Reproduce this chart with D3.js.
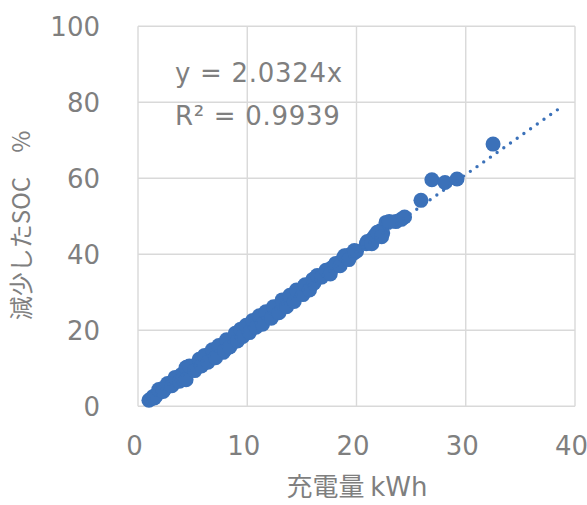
<!DOCTYPE html>
<html lang="ja">
<head>
<meta charset="UTF-8">
<title>充電量と減少したSOC</title>
<script src="https://d3js.org/d3.v7.min.js"></script>
<style>
  html, body { margin: 0; padding: 0; background: #fff; }
  svg text { font-family: "DejaVu Sans", Verdana, sans-serif; fill: #7f7f7f; }
  svg text.jp { font-family: "Noto Sans CJK JP", "DejaVu Sans", sans-serif; white-space: pre; }
</style>
</head>
<body>
<div id="chart"></div>
<script>
// 充電量 kWh
const chargeKwh = [
  1.0, 1.2, 1.4, 1.7, 2.0, 2.2, 2.4, 2.6, 2.8, 3.0, 3.2, 3.3, 3.5, 3.7, 3.9, 4.0,
  4.2, 4.3, 4.5, 4.6, 4.8, 5.0, 5.1, 5.3, 5.5, 5.7, 5.9, 6.0, 6.2, 6.3, 6.5, 6.7,
  6.9, 7.0, 7.2, 7.3, 7.5, 7.7, 7.8, 8.0, 8.2, 8.3, 8.5, 8.7, 8.8, 9.0, 9.2, 9.3,
  9.5, 9.7, 9.8, 10.0, 10.1, 10.3, 10.4, 10.6, 10.7, 10.9, 11.0, 11.2, 11.3, 11.5,
  11.6, 11.8, 12.0, 12.1, 12.3, 12.5, 12.6, 12.8, 13.0, 13.1, 13.3, 13.5, 13.7,
  13.8, 14.0, 14.2, 14.4, 14.6, 14.8, 15.0, 15.2, 15.4, 15.6, 15.8, 16.0, 16.3,
  16.6, 17.0, 17.4, 17.7, 18.0, 18.3, 18.6, 18.8, 19.1, 19.4, 19.7, 20.0, 20.9,
  21.2, 21.5, 21.7, 22.0, 22.2, 22.4, 22.7, 23.6, 24.1, 24.4, 25.9, 26.9, 28.1,
  29.2, 32.5,
  1.5, 1.9, 2.3, 2.7, 3.1, 3.4, 3.8, 4.1, 4.4, 4.4, 4.7, 5.2, 5.6, 5.8, 6.1, 6.4,
  6.8, 7.1, 7.4, 7.9, 8.1, 8.4, 8.9, 9.1, 9.4, 9.6, 9.9, 10.2, 10.5, 10.8, 11.1,
  11.4, 11.7, 12.2, 12.4, 12.9, 13.2, 13.6, 13.9, 14.3, 14.5, 15.1, 15.3, 15.7,
  16.1, 16.4, 16.8, 17.2, 17.6, 18.1, 18.5, 18.9, 19.3, 19.8, 21.0, 21.4, 21.9,
  22.3, 23.0
];
// 減少したSOC %
const socDrop = [
  1.6, 2.0, 2.6, 3.0, 3.8, 4.6, 4.4, 5.0, 5.8, 5.9, 6.4, 6.8, 7.0, 7.6, 7.7, 8.4,
  8.2, 9.0, 10.3, 9.0, 9.8, 10.1, 10.6, 10.7, 11.4, 11.2, 12.0, 12.6, 12.3, 13.0, 13.4, 13.1,
  14.2, 14.0, 14.6, 15.0, 14.8, 15.6, 14.2, 16.4, 16.1, 17.0, 17.2, 16.8, 18.0, 18.2, 18.6, 19.3,
  19.0, 19.8, 20.4, 20.2, 21.0, 20.8, 21.6, 21.5, 22.3, 22.0, 22.8, 23.0, 22.2, 23.6,
  23.3, 24.2, 24.0, 24.8, 25.2, 25.0, 26.0, 26.3, 26.1, 27.0, 27.2, 27.6, 27.3,
  28.2, 28.4, 28.8, 29.6, 30.0, 29.6, 30.6, 31.5, 31.0, 32.0, 32.2, 33.4, 33.8,
  34.0, 34.8, 35.6, 36.4, 36.8, 37.4, 38.0, 39.0, 39.6, 39.8, 40.2, 40.8, 42.8,
  43.4, 44.2, 45.0, 45.4, 46.2, 45.6, 48.4, 48.6, 49.2, 49.8, 54.2, 59.6, 58.9,
  59.8, 69.0,
  2.2, 4.4, 3.9, 6.0, 5.4, 7.6, 6.6, 7.2, 10.2, 7.0, 10.6, 9.4, 12.4, 10.6, 13.4, 11.6,
  14.9, 12.8, 16.0, 14.6, 17.5, 15.6, 19.2, 17.2, 20.3, 18.4, 21.3, 19.4, 22.6, 20.8, 23.8,
  21.6, 24.9, 23.2, 26.2, 24.6, 28.0, 26.2, 29.2, 27.6, 30.6, 29.4, 32.0, 30.6,
  32.4, 34.4, 34.0, 35.8, 34.8, 37.6, 37.0, 39.6, 38.6, 41.0, 43.4, 42.8, 45.8,
  44.6, 48.6
];
const xTicks = [0, 10, 20, 30, 40];
const yTicks = [0, 20, 40, 60, 80, 100];
const slope = 2.0324;
const trendX = [1.0, 38.9];
const equationLines = ["y = 2.0324x", "R² = 0.9939"];

const width = 587, height = 505;
const plot = { left: 138, right: 575, top: 26.3, bottom: 406.3 };
const markerColor = "#3b71b9";
const gridColor = "#d9d9d9";

const points = chargeKwh.map((x, i) => ({ x: x, y: socDrop[i] }));

const svg = d3.select("#chart").append("svg")
  .attr("width", width).attr("height", height);

const x = d3.scaleLinear().domain([0, 40]).range([plot.left, plot.right]);
const y = d3.scaleLinear().domain([0, 100]).range([plot.bottom, plot.top]);

// grid
svg.append("g").selectAll("line").data(xTicks).join("line")
  .attr("x1", d => x(d)).attr("x2", d => x(d))
  .attr("y1", plot.top).attr("y2", plot.bottom)
  .attr("stroke", gridColor).attr("stroke-width", 1.4);
svg.append("g").selectAll("line").data(yTicks).join("line")
  .attr("x1", plot.left).attr("x2", plot.right)
  .attr("y1", d => y(d)).attr("y2", d => y(d))
  .attr("stroke", gridColor).attr("stroke-width", 1.4);

// axis labels via d3 axes (domain/ticks hidden)
const xAxis = svg.append("g")
  .attr("transform", "translate(0," + plot.bottom + ")")
  .call(d3.axisBottom(x).tickValues(xTicks).tickSize(0).tickPadding(0));
xAxis.select(".domain").remove();
xAxis.selectAll("text")
  .attr("y", 40).attr("dy", "0.35em").attr("dx", -4)
  .attr("font-size", 26).attr("fill", "#7f7f7f")
  .attr("font-family", "DejaVu Sans, Verdana, sans-serif");

const yAxis = svg.append("g")
  .attr("transform", "translate(100,0)")
  .call(d3.axisLeft(y).tickValues(yTicks).tickSize(0).tickPadding(0));
yAxis.select(".domain").remove();
yAxis.selectAll("text")
  .attr("x", 0).attr("dy", "0.36em")
  .attr("font-size", 26).attr("fill", "#7f7f7f")
  .attr("font-family", "DejaVu Sans, Verdana, sans-serif");

// markers
svg.append("g").selectAll("circle").data(points).join("circle")
  .attr("cx", d => x(d.x)).attr("cy", d => y(d.y))
  .attr("r", 7.5).attr("fill", markerColor);

// linear trendline (dotted)
svg.append("line")
  .attr("x1", x(trendX[0])).attr("y1", y(slope * trendX[0]))
  .attr("x2", x(trendX[1])).attr("y2", y(slope * trendX[1]))
  .attr("stroke", markerColor).attr("stroke-width", 3.4)
  .attr("stroke-linecap", "round").attr("stroke-dasharray", "0 8.2");

// equation
svg.append("g").selectAll("text").data(equationLines).join("text")
  .attr("x", 175).attr("y", (d, i) => 82 + i * 42.5)
  .attr("font-size", 26).attr("letter-spacing", 0.7)
  .text(d => d);

// titles
const xTitle = svg.append("text").attr("class", "jp")
  .attr("x", 357).attr("y", 496)
  .attr("text-anchor", "middle").attr("font-size", 26);
xTitle.append("tspan").text("充電量 ");
xTitle.append("tspan").attr("font-family", "DejaVu Sans, Verdana, sans-serif")
  .attr("font-size", 26).text("kWh");

svg.append("text").attr("class", "jp")
  .attr("transform", "translate(30,225.5) rotate(-90)")
  .attr("text-anchor", "middle").attr("font-size", 24)
  .text("減少したSOC\u3000%");
</script>
</body>
</html>
